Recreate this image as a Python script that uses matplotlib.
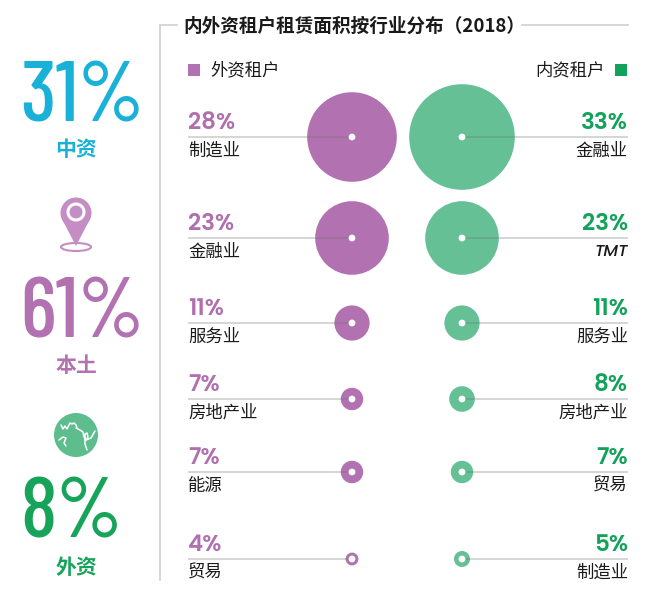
import matplotlib
matplotlib.use("Agg")
import matplotlib.pyplot as plt
from matplotlib.patches import Circle, Polygon, Ellipse, Rectangle

plt.rcParams['font.family'] = ['Noto Sans CJK SC', 'DejaVu Sans']

# ---------------- data ----------------
title = "内外资租户租赁面积按行业分布（2018）"
legend_foreign = "外资租户"
legend_domestic = "内资租户"

foreign_cats = ["制造业", "金融业", "服务业", "房地产业", "能源", "贸易"]
foreign_vals = [28, 23, 11, 7, 7, 4]
domestic_cats = ["金融业", "TMT", "服务业", "房地产业", "贸易", "制造业"]
domestic_vals = [33, 23, 11, 8, 7, 5]

share_labels = ["中资", "本土", "外资"]
share_vals = [31, 61, 8]

# ---------------- style / layout ----------------
PURPLE = "#b271b0"
PURPLE_TXT = "#b070ae"
PIN = "#c48dc3"
GREEN = "#66c096"
GREEN_TXT = "#12a25a"
CYAN = "#19b1d8"
BIG_GREEN = "#17a35a"
GLOBE = "#5dbd8c"
GRAY = "#cfcfcf"
TXT = "#1a1a1a"

row_y = [137, 238, 323, 399, 472, 559]
x_left_c, x_right_c = 352, 462
x_left_txt, x_right_txt = 188, 628
px_per_pct = 1.6

fig = plt.figure(figsize=(6.5, 6.0), dpi=100)
ax = fig.add_axes([0, 0, 1, 1])
ax.set_xlim(0, 650)
ax.set_ylim(600, 0)
ax.axis('off')

# frame lines
ax.plot([160, 160], [25, 580], color=GRAY, lw=1.2, zorder=1)
ax.plot([160, 177], [25, 25], color=GRAY, lw=1.2, zorder=1)
ax.plot([522, 628], [25, 25], color=GRAY, lw=1.2, zorder=1)
ax.text(183, 26, title, fontsize=13.4, fontweight='bold', color=TXT,
        ha='left', va='center')

# legend
ax.add_patch(Rectangle((188, 64), 12, 12, color=PURPLE, lw=0))
ax.text(210, 70, legend_foreign, fontsize=12.5, color=TXT, ha='left', va='center')
ax.add_patch(Rectangle((615, 64), 12, 12, color=GREEN_TXT, lw=0))
ax.text(605, 70, legend_domestic, fontsize=12.5, color=TXT, ha='right', va='center')

pct_font = ['Poppins', 'DejaVu Sans']

for i, y in enumerate(row_y):
    # left (foreign)
    v = foreign_vals[i]
    ax.add_patch(Circle((x_left_c, y), v * px_per_pct, color=PURPLE, lw=0, zorder=2))
    ax.plot([x_left_txt, x_left_c], [y, y], color=(0.45, 0.45, 0.45), alpha=0.35,
            lw=1.2, zorder=3, solid_capstyle='butt')
    ax.add_patch(Circle((x_left_c, y), 3.4, color='white', lw=0, zorder=4))
    ax.text(x_left_txt, y - 8, f"{v}%", fontsize=16.5, fontweight=600,
            family=pct_font, color=PURPLE_TXT, ha='left', va='baseline')
    ax.text(x_left_txt, y + 14, foreign_cats[i], fontsize=12.5, color=TXT,
            ha='left', va='center')
    # right (domestic)
    v = domestic_vals[i]
    ax.add_patch(Circle((x_right_c, y), v * px_per_pct, color=GREEN, lw=0, zorder=2))
    ax.plot([x_right_c, x_right_txt], [y, y], color=(0.45, 0.45, 0.45), alpha=0.35,
            lw=1.2, zorder=3, solid_capstyle='butt')
    ax.add_patch(Circle((x_right_c, y), 3.4, color='white', lw=0, zorder=4))
    ax.text(x_right_txt, y - 8, f"{v}%", fontsize=16.5, fontweight=600,
            family=pct_font, color=GREEN_TXT, ha='right', va='baseline')
    cat = domestic_cats[i]
    if cat.isascii():
        ax.text(x_right_txt, y + 14, cat, fontsize=12, color=TXT, ha='right',
                va='center', style='italic', fontweight=500, family=pct_font)
    else:
        ax.text(x_right_txt, y + 14, cat, fontsize=12.5, color=TXT,
                ha='right', va='center')

# left panel big numbers
big_font = ['Barlow Condensed', 'DejaVu Sans']
big_cols = [CYAN, PURPLE, BIG_GREEN]
big_base = [122, 337, 538]
lab_y = [150, 365, 568]
for k in range(3):
    ax.text(20, big_base[k], f"{share_vals[k]}%", fontsize=61, family=big_font,
            fontweight=500, color=big_cols[k], ha='left', va='baseline')
    ax.text(76, lab_y[k], share_labels[k], fontsize=15, fontweight='bold',
            color=big_cols[k], ha='center', va='center')

# pin icon
ax.add_patch(Ellipse((76, 247), 30, 8, fill=False, edgecolor=PIN, lw=1.5))
ax.add_patch(Circle((76, 213), 15.5, color=PIN, lw=0))
ax.add_patch(Polygon([(62, 219), (90, 219), (76, 246)], closed=True, color=PIN, lw=0))
ax.add_patch(Circle((76, 212), 8, facecolor=PIN, edgecolor='white', lw=2.2))

# globe icon
ax.add_patch(Circle((76, 435), 22, color=GLOBE, lw=0))
wl = dict(color='white', lw=1.1, solid_capstyle='round')
ax.plot([61, 63, 65, 67, 69, 70, 72, 74, 76, 77], [425, 429, 426, 429, 425, 423, 424, 423, 425, 428], **wl)
ax.plot([76, 80, 83, 84, 86, 88, 87, 85, 85, 87], [428, 430, 432, 437, 440, 437, 433, 434, 444, 450], **wl)
ax.plot([86, 91, 95], [440, 438, 431], **wl)
ax.plot([59, 63, 66, 64, 66], [440, 437, 438, 443, 446], **wl)

fig.savefig("out.png", dpi=100)
